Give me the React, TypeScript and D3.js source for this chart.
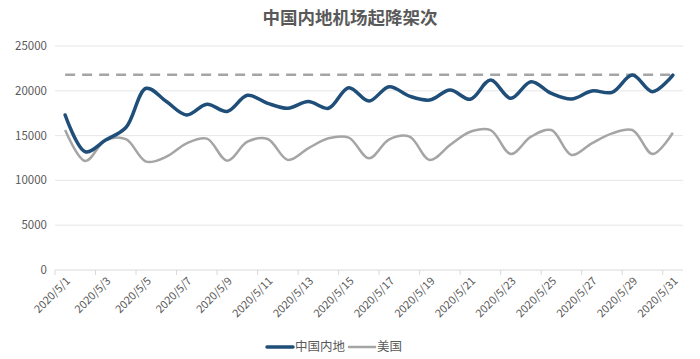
import React, { useRef, useEffect } from "react"
import * as d3 from "d3"

const dates = d3.range(1, 32).map(d => `2020/5/${d}`)

const chinaValues = [
  17300, 13200, 14500, 15900, 20280, 18800, 17300, 18500, 17700, 19500,
  18600, 18050, 18800, 18050, 20350, 18860, 20460, 19400, 18970, 20090,
  19050, 21200, 19160, 21020, 19720, 19080, 19980, 19830, 21760, 19900,
  21760,
]

const usValues = [
  15620, 12160, 14500, 14600, 12090, 12650, 14140, 14660, 12200, 14320,
  14620, 12280, 13580, 14700, 14770, 12460, 14580, 14880, 12280, 13950,
  15430, 15620, 12950, 14880, 15620, 12830, 14140, 15250, 15620, 12950,
  15320,
]

const refLine = 21800
const yTicks = [0, 5000, 10000, 15000, 20000, 25000]
const seriesNames = ["中国内地", "美国"]
const colors = ["#1F4E79", "#A5A5A5"]

const W = 700
const H = 359
const FONT = "'Noto Sans CJK SC', 'Noto Sans', sans-serif"

function Chart() {
  const ref = useRef<SVGSVGElement>(null)

  useEffect(() => {
    const svg = d3.select(ref.current)
    svg.selectAll("*").remove()

    const margin = { left: 55, right: 17, top: 46, bottom: 89 }
    const plotW = W - margin.left - margin.right
    const plotH = H - margin.top - margin.bottom

    const x = d3
      .scaleBand()
      .domain(dates)
      .range([margin.left, margin.left + plotW])
    const y = d3
      .scaleLinear()
      .domain([0, 25000])
      .range([margin.top + plotH, margin.top])

    const cx = (d: string) => (x(d) as number) + x.bandwidth() / 2

    // title
    svg
      .append("text")
      .attr("x", W / 2)
      .attr("y", 24)
      .attr("text-anchor", "middle")
      .style("font-family", FONT)
      .style("font-size", "17.5px")
      .style("font-weight", "bold")
      .attr("fill", "#595959")
      .text("中国内地机场起降架次")

    // grid
    svg
      .append("g")
      .selectAll("line")
      .data(yTicks.filter(d => d > 0))
      .join("line")
      .attr("x1", margin.left)
      .attr("x2", margin.left + plotW)
      .attr("y1", d => y(d))
      .attr("y2", d => y(d))
      .attr("stroke", "#E6E6E6")
      .attr("stroke-width", 1)

    // y labels
    svg
      .append("g")
      .selectAll("text")
      .data(yTicks)
      .join("text")
      .attr("x", margin.left - 8)
      .attr("y", d => y(d))
      .attr("dy", "0.35em")
      .attr("text-anchor", "end")
      .style("font-family", FONT)
      .style("font-size", "11.5px")
      .attr("fill", "#595959")
      .text(d => d)

    // x axis line
    svg
      .append("line")
      .attr("x1", margin.left)
      .attr("x2", margin.left + plotW)
      .attr("y1", y(0))
      .attr("y2", y(0))
      .attr("stroke", "#D9D9D9")

    // ticks every two categories
    const tickDates = dates.filter((d, i) => i % 2 === 0)
    svg
      .append("g")
      .selectAll("line")
      .data(tickDates)
      .join("line")
      .attr("x1", d => x(d) as number)
      .attr("x2", d => x(d) as number)
      .attr("y1", y(0))
      .attr("y2", y(0) + 5)
      .attr("stroke", "#D9D9D9")

    svg
      .append("g")
      .selectAll("text")
      .data(tickDates)
      .join("text")
      .attr(
        "transform",
        d => `translate(${cx(d) + 3},${y(0) + 9}) rotate(-45)`
      )
      .attr("text-anchor", "end")
      .attr("dy", "0.35em")
      .style("font-family", FONT)
      .style("font-size", "11px")
      .attr("fill", "#595959")
      .text(d => d)

    // reference dashed line
    svg
      .append("line")
      .attr("x1", cx(dates[0]))
      .attr("x2", cx(dates[dates.length - 1]))
      .attr("y1", y(refLine))
      .attr("y2", y(refLine))
      .attr("stroke", "#A5A5A5")
      .attr("stroke-width", 2.5)
      .attr("stroke-dasharray", "10,7")

    const line = d3
      .line<number>()
      .x((d, i) => cx(dates[i]))
      .y(d => y(d))
      .curve(d3.curveCatmullRom.alpha(0.5))

    svg
      .append("path")
      .datum(usValues)
      .attr("d", line)
      .attr("fill", "none")
      .attr("stroke", colors[1])
      .attr("stroke-width", 2.5)
      .attr("stroke-linejoin", "round")

    svg
      .append("path")
      .datum(chinaValues)
      .attr("d", line)
      .attr("fill", "none")
      .attr("stroke", colors[0])
      .attr("stroke-width", 3.5)
      .attr("stroke-linejoin", "round")
      .attr("stroke-linecap", "round")

    // legend
    const legendY = 347
    const lg = svg.append("g")
    const items = [
      { name: seriesNames[0], color: colors[0], sw: 3.5, x0: 267 },
      { name: seriesNames[1], color: colors[1], sw: 2.5, x0: 349 },
    ]
    items.forEach(it => {
      lg.append("line")
        .attr("x1", it.x0)
        .attr("x2", it.x0 + 26)
        .attr("y1", legendY)
        .attr("y2", legendY)
        .attr("stroke", it.color)
        .attr("stroke-width", it.sw)
        .attr("stroke-linecap", "round")
      lg.append("text")
        .attr("x", it.x0 + 28)
        .attr("y", legendY)
        .attr("dy", "0.35em")
        .style("font-family", FONT)
        .style("font-size", "12.5px")
        .attr("fill", "#595959")
        .text(it.name)
    })
  }, [])

  return <svg ref={ref} width={W} height={H} style={{ display: "block" }} />
}

export default function App() {
  return (
    <div style={{ position: "absolute", left: 0, top: 0, background: "#fff" }}>
      <Chart />
    </div>
  )
}
